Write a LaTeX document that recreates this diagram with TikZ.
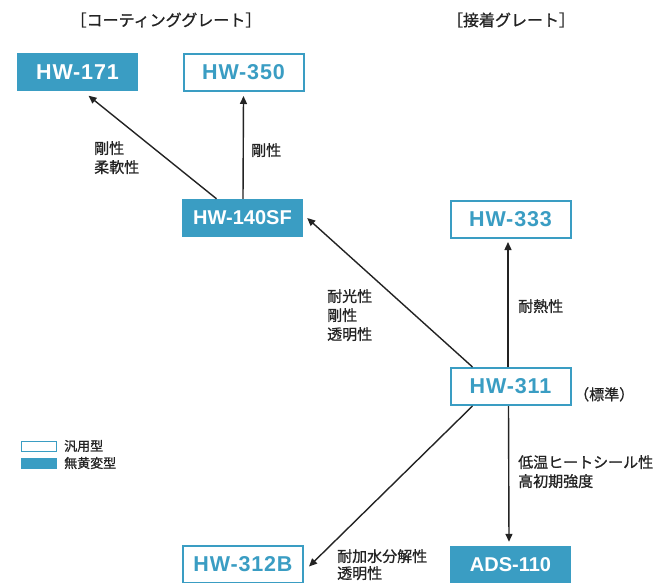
\documentclass[tikz,border=0pt]{standalone}
\usepackage{fontspec}
\setmainfont{Liberation Sans}
\newfontfamily\jp[FakeBold=1]{Noto Sans CJK JP}
\usetikzlibrary{arrows.meta,calc}
\definecolor{tealA}{RGB}{58,157,195}
\definecolor{ink}{RGB}{35,35,35}
\begin{document}
\begin{tikzpicture}[x=1pt,y=-1pt,
 prod/.style={minimum width=121pt,minimum height=38pt,inner sep=0pt,font=\fontsize{21.5}{24}\selectfont\bfseries\addfontfeature{LetterSpace=4}},
 narrow/.style={font=\fontsize{20}{24}\selectfont\bfseries},
 filled/.style={prod,fill=tealA,text=white},
 outl/.style={prod,draw=tealA,line width=2pt,fill=white,text=tealA,minimum width=120pt,minimum height=37pt},
 arr/.style={-{Triangle[length=8pt,width=7pt]},line width=1.4pt,draw=ink},
 lab/.style={font=\jp\fontsize{15}{19}\selectfont,text=ink,align=left,anchor=north west,inner sep=0pt},
 ttl/.style={font=\jp\fontsize{16}{19}\selectfont,text=ink,inner sep=0pt},
 leg/.style={font=\jp\fontsize{13}{16}\selectfont,text=ink,anchor=west,inner sep=0pt}]
\useasboundingbox (0,0) rectangle (659,583);
% titles
\node[ttl] (t1) at (166,20) {［コーティンググレート］};
\node[ttl] (t2) at (511,20) {［接着グレート］};
% products
\node[filled] (n171) at (77.5,72.5) {HW-171};
\node[outl]   (n350) at (243.5,72.5) {HW-350};
\node[filled,narrow] (n140) at (242.5,218) {HW-140SF};
\node[outl]   (n333) at (510.5,219.5) {HW-333};
\node[outl]   (n311) at (510.5,386.5) {HW-311};
\node[outl]   (n312) at (243,564.5) {HW-312B};
\node[filled,narrow] (n110) at (510.5,565) {ADS-110};
% connectors
\draw[arr] ([xshift=-26pt]n140.north) -- ([xshift=11pt,yshift=-4pt]n171.south);
\draw[arr] ([xshift=0.5pt]n140.north) -- ([xshift=0pt,yshift=-4pt]n350.south);
\draw[arr] ([xshift=-2.5pt]n311.north) -- ([xshift=-2.5pt,yshift=-3pt]n333.south);
\draw[arr] ([xshift=-38pt]n311.north) -- ([xshift=4pt]n140.east);
\draw[arr] ([xshift=-38pt]n311.south) -- ([xshift=5pt,yshift=-2pt]n312.east);
\draw[arr] ([xshift=-2pt]n311.south) -- ([xshift=-1.5pt,yshift=4pt]n110.north);
% labels
\node[lab] (l1) at (94,141) {剛性\\柔軟性};
\node[lab] (l2) at (251,143) {剛性};
\node[lab] (l3) at (327,289) {耐光性\\剛性\\透明性};
\node[lab] (l4) at (518,299) {耐熱性};
\node[lab] (l5) at (518,455) {低温ヒートシール性\\高初期強度};
\node[lab,font=\jp\fontsize{15}{17}\selectfont] (l6) at (337,549) {耐加水分解性\\透明性};
\node[lab] (l7) at (574,387) {（標準）};
% legend
\node[draw=tealA,line width=1.2pt,fill=white,minimum width=35pt,minimum height=10pt,inner sep=0pt] (g1) at (39,446.5) {};
\node[fill=tealA,minimum width=36pt,minimum height=11pt,inner sep=0pt] (g2) at (39,463) {};
\node[leg] (g1t) at (64,446) {汎用型};
\node[leg] (g2t) at (64,463) {無黄変型};
\end{tikzpicture}
\end{document}
